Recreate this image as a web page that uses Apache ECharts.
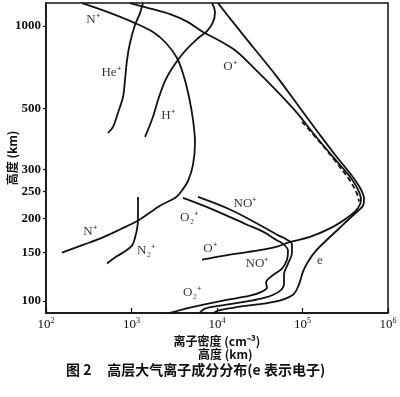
<!DOCTYPE html>
<html><head><meta charset="utf-8">
<script src="https://cdn.jsdelivr.net/npm/echarts@6/dist/echarts.min.js"></script>
<style>html,body{margin:0;padding:0;background:#fff}#c{width:400px;height:397px}</style>
</head><body><div id="c"></div>
<script>
// ---- data (ion density cm^-3, altitude km) ----
const xTicks = [100, 1000, 10000, 100000, 1000000];
const yTicks = [100, 150, 200, 250, 300, 500, 1000];

const nPlus = [[264,1209],[531,1121],[1099,1023],[1784,949],[2532,866],[3406,764],[4112,652],[4705,551],[5242,455],[5530,376],[5242,313],[4580,273],[3693,247],[3227,237],[2154,222],[1224,197],[734,182],[428,168.5],[271,160],[154,150]];
const n2Plus = [[1191,239],[1191,215],[1191,197],[1160,182],[1099,170],[1014,159],[795,150],[641,144],[517,137]];
const hePlus = [[1363,1209],[1257,1112],[1099,1006],[960,866],[886,751],[840,636],[795,551],[695,483],[608,429],[531,408]];
const hPlus = [[8741,1209],[9476,1121],[8982,1031],[7638,957],[5836,895],[4225,810],[3227,726],[2532,641],[2097,551],[1784,467],[1560,419],[1439,395]];
const oPlus = [[960,1209],[1439,1169],[2820,1102],[4580,1031],[6860,949],[10840,880],[16680,810],[26370,708],[45190,599],[86240,483],[132700,408],[227400,334],[359400,283],[445800,254],[483300,233],[445800,218],[359400,204],[227400,186],[122400,171],[71420,164],[50330,157.6],[34510,153.7],[14190,147.4],[6677,141.3]];
const electrons = [[10270,1209],[15380,1031],[26370,837],[50330,652],[93500,503],[147800,415],[240000,340],[369300,288],[470400,258],[524200,235],[510200,222],[434000,211],[340400,197],[260100,182],[193400,167],[143900,152.4],[115900,139],[101350,128],[91000,115],[77420,105.5],[47700,99.5],[18580,95.4],[10270,92.4],[8982,90]];
const dashedTail = [[98700,448],[151800,385],[246600,320],[359400,273.5],[434000,245],[458000,230]];
const o2Plus = [[2601,90],[4834,94.7],[11760,100.4],[24320,104.6],[33600,108.2],[38450,111.9],[37420,116.7],[42800,122.7],[57590,131.2],[65870,141.3],[67670,152.4],[60770,160.3],[48990,167.1],[34510,178.7],[22440,189.4],[8982,215],[4003,237]];
const noPlus = [[6159,90],[7236,93.9],[10840,96.2],[21260,99.5],[36430,102.9],[53100,108.2],[60770,115.7],[60770,124.8],[67670,136.7],[75370,149.9],[75370,160.3],[65870,167.1],[50330,174.2],[34510,186.2],[14190,215],[5995,239]];

const labelTexts = ['N⁺','He⁺','H⁺','O⁺','N⁺','N₂⁺','O₂⁺','NO⁺','O⁺','NO⁺','O₂⁺','e'];
const labelX = [354,576,2673,14190,327,1478,4705,21260,8282,29370,5101,160200];
const labelY = [1049,674,471,708,179,152.5,201,225.7,155,136.7,107.3,140.3];

const chart = echarts.init(document.getElementById('c'), null, {renderer:'canvas'});
const serif = '"Liberation Serif","Times New Roman",serif';
function curve(name, data, dashed){
  return {name, type:'line', data, showSymbol:false, symbol:'none', smooth:0.35,
    lineStyle:{color:'#111', width:1.8, type: dashed ? [5,3] : 'solid'}, z: dashed?3:2, silent:true};
}
chart.setOption({
  animation:false,
  backgroundColor:'#fff',
  grid:{left:46,right:12,top:3,bottom:84,containLabel:false,outerBoundsMode:'none',show:true,borderColor:'#111',borderWidth:1.5,backgroundColor:'transparent'},
  xAxis:{type:'log',logBase:10,min:100,max:1000000,
    name:'离子密度 (cm⁻³)',nameLocation:'middle',nameGap:22,nameMoveOverlap:false,
    nameTextStyle:{fontFamily:'"Noto Sans CJK SC",serif',fontSize:12,color:'#111',fontWeight:'bold'},
    axisLine:{lineStyle:{color:'#111',width:1.5}},
    axisTick:{inside:true,length:5,lineStyle:{color:'#111',width:1.2},customValues:xTicks},
    splitLine:{show:false},minorTick:{show:false},
    axisLabel:{customValues:xTicks,margin:4,color:'#111',
      formatter:v=>'10{s|'+Math.round(Math.log10(v))+'}',
      rich:{s:{fontSize:8,fontFamily:serif,verticalAlign:'top',padding:[0,0,7,0],color:'#111'}},
      fontFamily:serif,fontSize:13}},
  yAxis:{type:'log',logBase:10,min:90.5,max:1210,
    name:'高度 (km)',nameLocation:'middle',nameGap:28,nameRotate:90,nameMoveOverlap:false,
    nameTextStyle:{fontFamily:'"Noto Sans CJK SC",serif',fontSize:12,color:'#111',fontWeight:'bold'},
    axisLine:{lineStyle:{color:'#111',width:1.5}},
    axisTick:{inside:false,length:3,lineStyle:{color:'#111',width:1.2},customValues:yTicks},
    splitLine:{show:false},minorTick:{show:false},
    axisLabel:{customValues:yTicks,margin:5,color:'#111',fontFamily:serif,fontSize:13,fontWeight:'bold',
      formatter:v=>String(Math.round(v))}},
  graphic:[
    {type:'text',left:198,top:348,style:{text:'高度 (km)',font:'bold 12px "Noto Sans CJK SC"',fill:'#111'}},
    {type:'text',left:66,top:363,style:{text:'图 2     高层大气离子成分分布(e 表示电子)',font:'bold 14px "Noto Sans CJK SC"',fill:'#111'}}
  ],
  series:[
    curve('N+',nPlus), curve('N2+',n2Plus), curve('He+',hePlus), curve('H+',hPlus),
    curve('O+',oPlus), curve('e',electrons), curve('dash',dashedTail,true),
    curve('O2+',o2Plus), curve('NO+',noPlus),
    {type:'scatter',symbolSize:1,itemStyle:{color:'rgba(0,0,0,0)'},silent:true,z:5,
     data: labelTexts.map((t,i)=>({name:t,value:[labelX[i],labelY[i]]})),
     label:{show:true,position:'inside',formatter:p=>p.name,fontFamily:serif,fontSize:13,color:'#000'}}
  ]
});
</script></body></html>
